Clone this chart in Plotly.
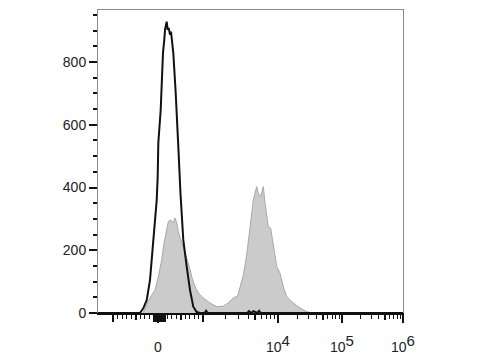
import numpy as np
import plotly.graph_objects as go

# ---- data (fluorescence intensity, cell count) ----
ctrl_x = [-1333, -400, -327, -251, -178, -104, -51, -29, -7, 7, 60, 89, 111, 140, 156, 193,
          216, 238, 267, 289, 318, 340, 393, 416, 455, 500, 527, 562, 638, 711, 784, 860, 933,
          1050, 1100, 1160, 3900, 4100, 4400, 4700, 5300, 5600, 5900, 1000000]
ctrl_y = [0, 0, 15, 41, 105, 233, 329, 360, 434, 542, 648, 753, 830, 871, 903, 929,
          903, 909, 887, 897, 861, 829, 702, 648, 520, 380, 307, 233, 148, 73, 20, 3, 0,
          0, 7, 0, 0, 6, 0, 6, 0, 7, 0, 0]

stain_x = [-333, -178, -67, 7, 82, 133, 193, 229, 282, 340, 378, 416, 451, 489, 562, 638, 696,
           749, 822, 896, 1009, 1240, 1523, 1865, 2175, 2535, 2900, 3113, 3445, 3825, 4233,
           4685, 5200, 5462, 5878, 6368, 6710, 7425, 7991, 8658, 9609, 10746, 12100, 13680,
           17340, 22070, 28080, 35230]
stain_y = [0, 48, 73, 115, 169, 223, 265, 291, 297, 287, 303, 287, 259, 243, 212, 175, 148,
           116, 84, 64, 48, 32, 20, 22, 32, 48, 55, 80, 120, 185, 275,
           360, 403, 382, 371, 403, 351, 275, 270, 212, 148, 127, 84, 52,
           32, 16, 4, 0]

y_ticks = [0, 200, 400, 600, 800]
x_label_vals = [0, 1e4, 1e5, 1e6]
sup = '<sup><span style="font-size:15px">%s</span></sup>'
x_label_text = ["0", "10" + sup % "4", "10" + sup % "5", "10" + sup % "6"]
x_long_vals = [-1000, 1000, -80, -60, -40, -20, 20, 40, 60, 80, 100, 120, 140, 160]
x_mid_vals = [-500, 500, 5e3, 5e4, 5e5]
x_minor_vals = ([-900, -800, -700, -600, -400, -300, -200, -100, 200, 300, 400, 600, 700, 800, 900]
                + [m * 1e3 for m in (2, 3, 4, 6, 7, 8, 9)]
                + [m * 1e4 for m in (2, 3, 4, 6, 7, 8, 9)]
                + [m * 1e5 for m in (2, 3, 4, 6, 7, 8, 9)])

# ---- biexponential-like display transform ----
A, B, C = 75 / 45, 64 / 45, 61 / 45


def disp(v):
    v = np.asarray(v, float)
    lin = v / 1e3
    d1 = 1 + A * np.log10(np.clip(v, 1e3, 1e4) / 1e3)
    d2 = 1 + A + B * np.log10(np.clip(v, 1e4, 1e5) / 1e4)
    d3 = 1 + A + B + C * np.log10(np.clip(v, 1e5, None) / 1e5)
    return np.where(v <= 1e3, lin, np.where(v <= 1e4, d1, np.where(v <= 1e5, d2, d3)))


xr = [-4 / 3, float(disp(1e6))]
font = dict(family="Arial, Liberation Sans, sans-serif", size=14, color="#222")

fig = go.Figure()
fig.add_trace(go.Scatter(x=disp(stain_x), y=stain_y, mode="lines", fill="tozeroy",
                         fillcolor="#cbcbcb", line=dict(color="#a8a8a8", width=1),
                         showlegend=False, hoverinfo="skip"))
fig.add_trace(go.Scatter(x=disp(ctrl_x), y=ctrl_y, mode="lines",
                         line=dict(color="#111111", width=2),
                         showlegend=False, hoverinfo="skip"))
# empty helper traces so the overlay axes (extra ticks, top frame) are drawn
for ax in ("x2", "x3", "x4"):
    fig.add_trace(go.Scatter(x=[None], y=[None], xaxis=ax, yaxis="y", mode="lines",
                             showlegend=False, hoverinfo="skip"))

tick_common = dict(range=xr, overlaying="x", anchor="y", side="bottom", tickmode="array",
                   ticks="outside", tickcolor="#111", automargin=False, showline=False,
                   showgrid=False, zeroline=False, showticklabels=False)

fig.update_layout(
    width=480, height=360,
    margin=dict(l=98, r=77, t=10, b=47),
    paper_bgcolor="white", plot_bgcolor="white",
    font=font,
    xaxis=dict(range=xr, tickmode="array", tickvals=list(disp(x_label_vals)), ticktext=x_label_text,
               ticks="outside", ticklen=8, tickwidth=2, tickcolor="#111",
               showline=True, linecolor="#111", linewidth=2, showgrid=False, zeroline=False,
               ticklabelstandoff=12, tickfont=font, automargin=False,
               minor=dict(tickmode="array", tickvals=list(disp(x_minor_vals)),
                          ticks="outside", ticklen=4, tickwidth=1, tickcolor="#111", showgrid=False)),
    xaxis2=dict(tick_common, tickvals=list(disp(x_long_vals)), ticklen=8, tickwidth=1.5),
    xaxis4=dict(tick_common, tickvals=list(disp(x_mid_vals)), ticklen=6, tickwidth=1.5),
    xaxis3=dict(range=xr, overlaying="x", anchor="y", side="top", ticks="", automargin=False,
                showticklabels=False, showline=True, linecolor="#8a8a8a", linewidth=1,
                showgrid=False, zeroline=False),
    yaxis=dict(range=[0, 966], tickmode="array", tickvals=y_ticks, automargin=False,
               ticks="outside", ticklen=8, tickwidth=2, tickcolor="#111",
               showline=True, linecolor="#8a8a8a", linewidth=1, mirror=True,
               showgrid=False, zeroline=False, tickfont=font,
               minor=dict(dtick=50, tick0=0, ticks="outside", ticklen=4, tickwidth=1.5,
                          tickcolor="#111", showgrid=False)),
)

fig.write_html("out.html")
